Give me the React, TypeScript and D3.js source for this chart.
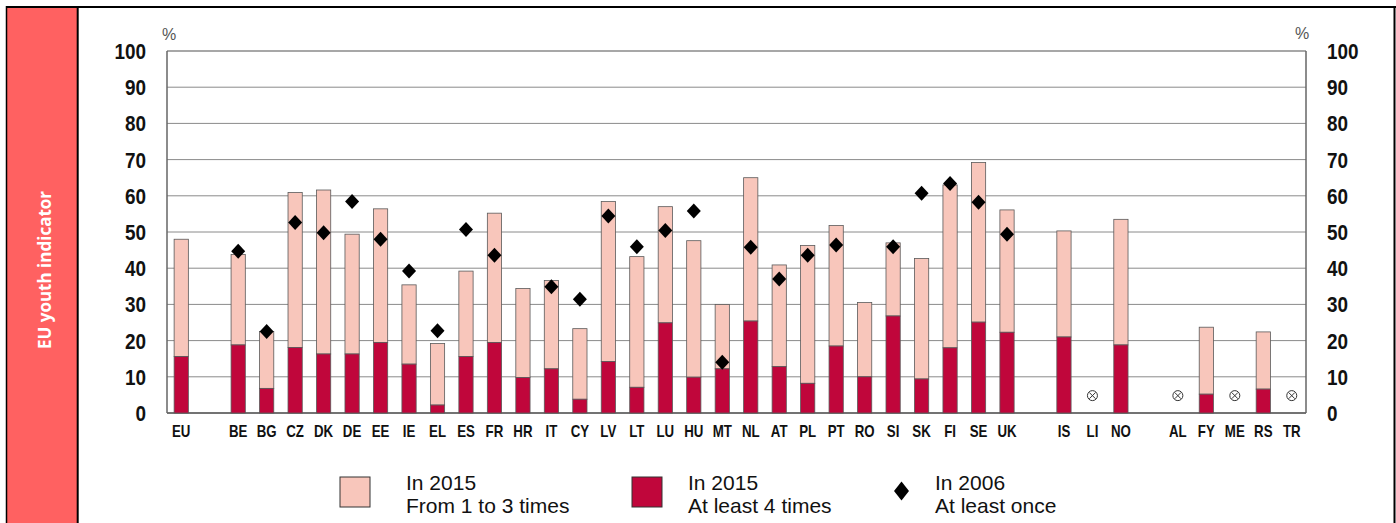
import React from "react";
import * as d3 from "d3";

const categories = ["EU", "", "BE", "BG", "CZ", "DK", "DE", "EE", "IE", "EL", "ES", "FR", "HR", "IT", "CY", "LV", "LT", "LU", "HU", "MT", "NL", "AT", "PL", "PT", "RO", "SI", "SK", "FI", "SE", "UK", "", "IS", "LI", "NO", "", "AL", "FY", "ME", "RS", "TR"];

// In 2015: at least 4 times (dark)
const atLeast4Times: (number | null)[] = [15.6, null, 18.8, 6.8, 18.1, 16.3, 16.3, 19.5, 13.5, 2.2, 15.6, 19.5, 9.8, 12.2, 3.8, 14.2, 7.1, 24.9, 9.9, 12.2, 25.4, 12.8, 8.2, 18.5, 10.0, 26.8, 9.4, 18.0, 25.1, 22.3, null, 21.0, null, 18.8, null, null, 5.2, null, 6.6, null];

// In 2015: from 1 to 3 times (light)
const from1To3Times: (number | null)[] = [32.4, null, 25.0, 15.7, 42.8, 45.3, 33.1, 36.9, 21.9, 17.0, 23.6, 35.7, 24.6, 24.4, 19.5, 44.2, 36.1, 32.1, 37.7, 17.8, 39.6, 28.1, 38.1, 33.3, 20.5, 20.2, 33.3, 45.0, 44.1, 33.8, null, 29.3, null, 34.7, null, null, 18.5, null, 15.8, null];

// In 2006: at least once (diamonds)
const atLeastOnce2006: (number | null)[] = [null, null, 44.7, 22.5, 52.6, 49.8, 58.4, 48.0, 39.2, 22.7, 50.7, 43.6, null, 34.9, 31.4, 54.4, 45.9, 50.4, 55.8, 14.0, 45.8, 37.0, 43.6, 46.4, null, 45.9, 60.7, 63.4, 58.2, 49.4, null, null, null, null, null, null, null, null, null, null];

// Not available markers
const notAvailable = ["LI", "AL", "ME", "TR"];

const yTicks = [0, 10, 20, 30, 40, 50, 60, 70, 80, 90, 100];

const legendItems = [
  { line1: "In 2015", line2: "From 1 to 3 times", kind: "light" },
  { line1: "In 2015", line2: "At least 4 times", kind: "dark" },
  { line1: "In 2006", line2: "At least once", kind: "diamond" },
];

const W = 1396;
const H = 523;
const LIGHT = "#F8C6BB";
const DARK = "#C0063B";
const SIDEBAR = "#FF6161";
const SANS = "'Liberation Sans', Arial, sans-serif";

export default function App() {
  const plotLeft = 167;
  const plotRight = 1306;
  const plotTop = 51;
  const plotBottom = 413;

  const x = d3
    .scaleBand<number>()
    .domain(categories.map((_, i) => i))
    .range([plotLeft, plotRight])
    .paddingInner(0.5)
    .paddingOuter(0.25);
  const y = d3.scaleLinear().domain([0, 100]).range([plotBottom, plotTop]);
  const bw = x.bandwidth();

  const diamond = (cx: number, cy: number, hw: number, hh: number) =>
    `M${cx},${cy - hh}L${cx + hw},${cy}L${cx},${cy + hh}L${cx - hw},${cy}Z`;

  const legendBoxX = [340, 632, 900];
  const legendTextX = [406, 688, 935];

  return (
    <svg
      width={W}
      height={H}
      style={{ position: "absolute", left: 0, top: 0, background: "#fff" }}
    >
      {/* Frame and sidebar */}
      <rect x={7} y={8} width={70} height={H - 8} fill={SIDEBAR} />
      <line x1={6} x2={W} y1={7} y2={7} stroke="#000" strokeWidth={2} />
      <line x1={6.5} x2={6.5} y1={6} y2={H} stroke="#000" strokeWidth={1.5} />
      <line x1={77.7} x2={77.7} y1={6} y2={H} stroke="#000" strokeWidth={2} />
      <line x1={1394.5} x2={1394.5} y1={6} y2={H} stroke="#000" strokeWidth={2} />
      <text
        transform="translate(44,270) rotate(-90)"
        textAnchor="middle"
        dominantBaseline="central"
        fill="#fff"
        fontFamily="'Open Sans', sans-serif"
        fontWeight="bold"
        fontSize={17}
      >
        EU youth indicator
      </text>

      {/* Gridlines */}
      {yTicks.map((t) => (
        <line
          key={"g" + t}
          x1={plotLeft}
          x2={plotRight}
          y1={y(t)}
          y2={y(t)}
          stroke={t === 0 ? "#444" : "#8a8a8a"}
          strokeWidth={t === 0 || t === 100 ? 1.5 : 1}
        />
      ))}
      <line x1={plotLeft} x2={plotLeft} y1={plotTop} y2={plotBottom} stroke="#666" strokeWidth={1.5} />
      <line x1={plotRight} x2={plotRight} y1={plotTop} y2={plotBottom} stroke="#666" strokeWidth={1.5} />

      {/* Y tick labels (condensed bold) */}
      {yTicks.map((t) => (
        <g key={"t" + t} fontFamily={SANS} fontWeight="bold" fontSize={22} fill="#111">
          <text
            transform={`translate(146,${y(t)}) scale(0.86,1)`}
            textAnchor="end"
            dominantBaseline="central"
          >
            {t}
          </text>
          <text
            transform={`translate(1327,${y(t)}) scale(0.86,1)`}
            textAnchor="start"
            dominantBaseline="central"
          >
            {t}
          </text>
        </g>
      ))}
      <text x={169} y={34} textAnchor="middle" dominantBaseline="central" fontFamily={SANS} fontSize={16} fill="#555">
        %
      </text>
      <text x={1302} y={33} textAnchor="middle" dominantBaseline="central" fontFamily={SANS} fontSize={16} fill="#555">
        %
      </text>

      {/* Bars */}
      {categories.map((c, i) => {
        const d = atLeast4Times[i];
        const l = from1To3Times[i];
        if (d == null || l == null) return null;
        const x0 = x(i)!;
        return (
          <g key={"b" + i} stroke="#5a5a5a" strokeWidth={0.8}>
            <rect x={x0} y={y(d + l)} width={bw} height={y(d) - y(d + l)} fill={LIGHT} />
            <rect x={x0} y={y(d)} width={bw} height={y(0) - y(d)} fill={DARK} />
          </g>
        );
      })}

      {/* Diamonds */}
      {categories.map((c, i) => {
        const v = atLeastOnce2006[i];
        if (v == null) return null;
        const cx = x(i)! + bw / 2;
        return <path key={"d" + i} d={diamond(cx, y(v), 7, 7.5)} fill="#000" />;
      })}

      {/* Not available markers */}
      {categories.map((c, i) => {
        if (!notAvailable.includes(c)) return null;
        const cx = x(i)! + bw / 2;
        const cy = y(4.8);
        const r = 5;
        const k = r * 0.62;
        return (
          <g key={"n" + i} stroke="#333" strokeWidth={1} fill="none">
            <circle cx={cx} cy={cy} r={r} />
            <line x1={cx - k} y1={cy - k} x2={cx + k} y2={cy + k} />
            <line x1={cx - k} y1={cy + k} x2={cx + k} y2={cy - k} />
          </g>
        );
      })}

      {/* X labels (condensed bold) */}
      {categories.map((c, i) =>
        c ? (
          <text
            key={"x" + i}
            transform={`translate(${x(i)! + bw / 2},437) scale(0.83,1)`}
            textAnchor="middle"
            fontFamily={SANS}
            fontWeight="bold"
            fontSize={16}
            fill="#111"
          >
            {c}
          </text>
        ) : null
      )}

      {/* Legend */}
      {legendItems.map((it, i) => {
        const lx = legendBoxX[i];
        const tx = legendTextX[i];
        return (
          <g key={"l" + i}>
            {it.kind === "diamond" ? (
              <path d={diamond(lx + 1.5, 491, 7.5, 9.5)} fill="#000" />
            ) : (
              <rect
                x={lx}
                y={477}
                width={30}
                height={30}
                fill={it.kind === "light" ? LIGHT : DARK}
                stroke="#333"
                strokeWidth={1}
              />
            )}
            <text x={tx} y={490} fontFamily={SANS} fontSize={21} fill="#111">
              {it.line1}
            </text>
            <text x={tx} y={513} fontFamily={SANS} fontSize={21} fill="#111">
              {it.line2}
            </text>
          </g>
        );
      })}
    </svg>
  );
}
